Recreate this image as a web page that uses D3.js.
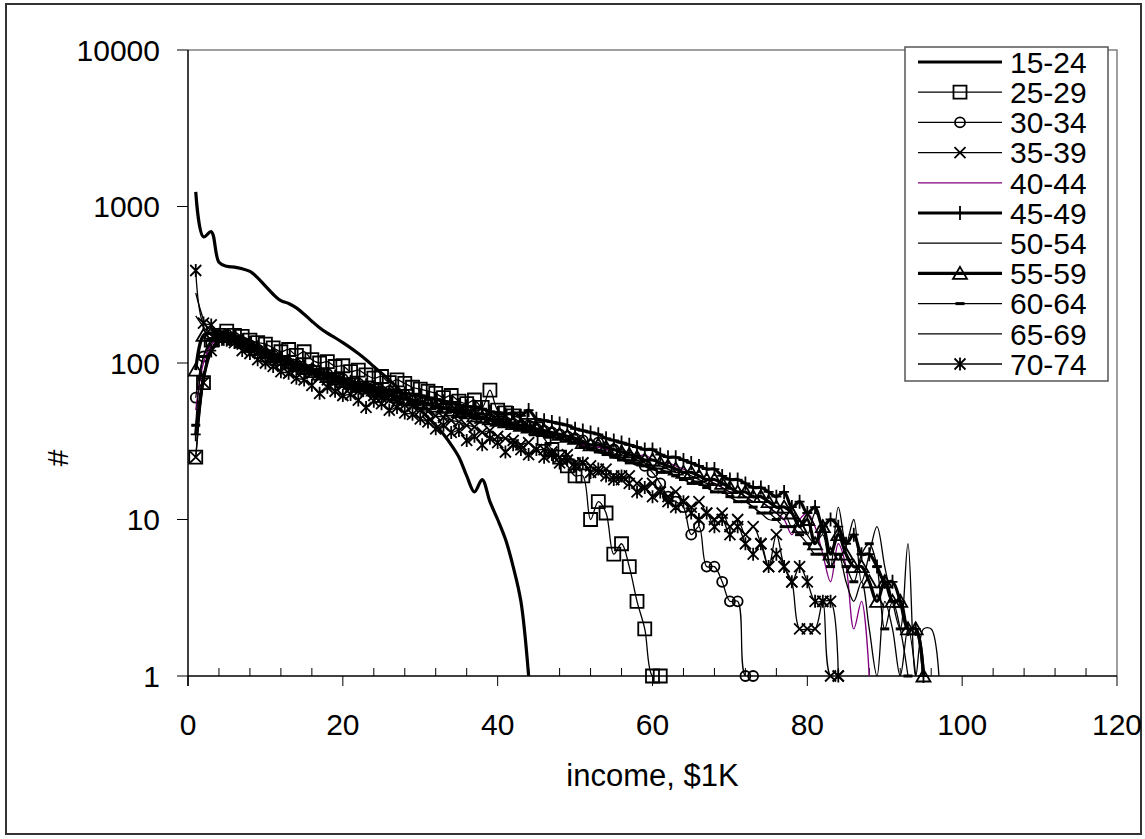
<!DOCTYPE html>
<html>
<head>
<meta charset="utf-8">
<script src="https://cdn.jsdelivr.net/npm/d3@7/dist/d3.min.js"></script>
<style>
  body { margin: 0; background: #fff; }
  svg text { font-family: "Liberation Sans", Arial, sans-serif; fill: #000; }
</style>
</head>
<body>
<svg id="chart-area"></svg>
<script>
// age groups (legend order)
var ages = ["15-24", "25-29", "30-34", "35-39", "40-44", "45-49", "50-54", "55-59", "60-64", "65-69", "70-74"];

// counts per $1K income bin, starting at income = 1
var s15_24 = [1240,640,690,440,415,410,400,385,350,310,275,250,240,225,205,185,168,155,145,135,125,115,105,95,86,78,70,62,56,50,45,40,35,30,25,19,15,18,13,10,7.5,5,3,1];
var s25_29 = [25,75,140,150,160,150,148,140,135,132,125,118,122,112,118,105,100,102,95,96,88,90,84,80,82,75,78,74,70,68,66,64,60,62,57,55,58,52,67,50,48,46,44,40,38,33,28,25,22,19,19,10,13,11,6,7,5,3,2,1,1];
var s30_34 = [60,110,135,150,152,145,135,130,122,115,112,104,100,98,92,91,86,85,80,79,75,74,70,70,66,66,62,63,58,58,55,55,52,52,50,49,47,47,44,44,42,41,40,40,38,37,36,35,34,33,32,30,31,28,28,26,25,24,22,20,17,14,13,12,8,9,5,5,4,3,3,1,1];
var s35_39 = [25,75,120,140,145,140,132,126,118,112,108,100,98,92,90,86,82,78,77,72,70,66,66,62,60,58,57,54,53,50,49,46,45,43,42,40,39,36,37,34,33,32,30,31,28,28,27,25,26,23,23,22,20,21,19,18,19,17,16,17,15,14,15,13,12,13,11,10,11,9,10,8,9,7,5,8,5,4,2,2,2,3,1,1];
var s40_44 = [50,100,130,145,150,145,138,130,124,117,111,106,101,97,93,89,86,83,80,77,75,72,70,68,66,64,62,60,58,57,55,53,52,51,49,48,46,45,44,43,41,40,39,38,37,36,35,34,33,32,30,29,29,28,28,27,26,25,26,24,23,23,22,21,20,19,18,17,16,15,15,14,13,13,12,11,10,8,10,11,9,6,4,7,5,2,3,1];
var s45_49 = [35,80,120,140,150,148,140,134,126,120,113,108,103,99,95,91,88,85,82,79,76,74,72,70,68,66,65,64,63,62,60,59,57,56,54,53,52,51,49,48,47,48,46,50,44,43,42,41,40,38,37,36,35,33,32,31,30,29,28,28,26,25,25,24,23,22,21,21,19,18,18,17,16,16,15,14,15,12,13,11,12,9,10,9,7,8,6,6,5,4,4,3,2,2,1];
var s50_54 = [280,190,150,148,145,140,135,128,122,116,110,106,100,97,92,89,85,82,80,77,74,72,69,67,65,64,61,60,58,56,54,53,51,50,48,47,45,44,43,42,40,39,38,37,36,35,34,33,32,31,29,28,27,26,25,24,24,23,22,21,21,20,19,18,18,17,16,15,15,14,13,13,12,11,10,10,11,9,10,8,7,8,5,6,4,3,4,2,1,3,2,1,2,1];
var s55_59 = [90,150,155,150,148,142,136,130,122,116,110,105,100,96,92,88,85,82,79,76,74,71,69,67,65,63,61,59,58,56,55,53,52,50,49,48,46,45,44,43,42,41,40,39,38,37,36,35,34,33,31,30,30,29,28,27,26,25,24,24,23,22,21,20,20,19,18,18,17,16,15,15,14,14,13,12,12,11,9,10,7,9,6,8,6,5,5,4,3,4,3,3,2,2,1];
var s60_64 = [40,110,140,148,146,140,133,127,120,114,108,104,99,95,91,88,84,81,78,75,73,70,68,66,64,62,60,59,57,55,54,52,51,49,48,47,45,44,43,41,40,39,38,37,36,35,34,33,32,31,29,28,27,26,25,24,23,23,22,21,20,20,19,18,17,17,16,15,15,14,13,13,12,11,11,10,9,9,8,7,6,6,5,6,5,4,6,7,5,2,3,2,1];
var s65_69 = [200,170,150,145,140,136,130,124,118,112,107,103,98,95,91,87,84,81,78,76,73,71,69,66,64,63,61,59,57,56,54,52,51,50,48,47,46,44,43,42,41,40,39,38,37,36,35,34,33,32,29,29,28,27,26,25,25,24,23,22,22,21,20,20,19,18,17,17,16,15,15,14,13,13,12,11,10,12,9,8,11,9,5,12,7,10,4,6,9,5,3,2,7,1,2,2,1];
var s70_74 = [390,180,175,150,140,135,120,115,105,100,95,88,86,80,78,72,64,70,66,62,63,58,52,57,55,50,52,48,47,44,42,38,40,36,37,32,34,30,33,31,27,30,28,26,28,25,26,23,24,22,23,20,21,19,18,19,17,15,16,14,15,13,12,13,11,10,11,9,10,8,9,7,6,7,5,6,5,4,5,4,3,3,3,1];

var seriesValues = [s15_24, s25_29, s30_34, s35_39, s40_44, s45_49, s50_54, s55_59, s60_64, s65_69, s70_74];

// axes
var xTicks = [0, 20, 40, 60, 80, 100, 120];
var yTicks = [1, 10, 100, 1000, 10000];
var xTitle = "income, $1K";
var yTitle = "#";

// line style per series
var styles = [
  { width: 3.2, color: "#000", marker: null },
  { width: 1.3, color: "#000", marker: "square" },
  { width: 1.3, color: "#000", marker: "circle" },
  { width: 1.3, color: "#000", marker: "x" },
  { width: 1.3, color: "#800080", marker: null },
  { width: 3.2, color: "#000", marker: "plus" },
  { width: 1.3, color: "#000", marker: null },
  { width: 3.2, color: "#000", marker: "triangle" },
  { width: 1.3, color: "#000", marker: "dash" },
  { width: 1.3, color: "#000", marker: null },
  { width: 1.3, color: "#000", marker: "star" }
];

var markerPath = {
  square: "M-6.5,-6.5H6.5V6.5H-6.5Z",
  circle: "M-5,0A5,5 0 1,0 5,0A5,5 0 1,0 -5,0",
  x: "M-5.5,-5.5L5.5,5.5M-5.5,5.5L5.5,-5.5",
  plus: "M0,-7V7M-5,0H5",
  triangle: "M0,-6.5L7,5.5H-7Z",
  dash: "M-4.5,0H4.5",
  star: "M-5.5,-5.5L5.5,5.5M-5.5,5.5L5.5,-5.5M0,-6.5V6.5"
};

var chart = {
  width: 1145, height: 839,
  plot: { left: 188, top: 50, right: 1117, bottom: 676 },
  fontSize: 30
};

var svg = d3.select("#chart-area")
  .attr("width", chart.width)
  .attr("height", chart.height);

// outer chart border
svg.append("rect")
  .attr("x", 6).attr("y", 4)
  .attr("width", 1135).attr("height", 830)
  .attr("fill", "#fff")
  .attr("stroke", "#333")
  .attr("stroke-width", 2);

var x = d3.scaleLinear().domain([0, 120]).range([chart.plot.left, chart.plot.right]);
var y = d3.scaleLog().domain([1, 10000]).range([chart.plot.bottom, chart.plot.top]);

// plot area frame (top/right grey)
svg.append("path")
  .attr("d", "M" + chart.plot.left + "," + chart.plot.top + "H" + chart.plot.right + "V" + chart.plot.bottom)
  .attr("fill", "none")
  .attr("stroke", "#808080")
  .attr("stroke-width", 1.5);

// x axis: major ticks outside, minor ticks every 4 inside
var xAxisGroup = svg.append("g")
  .attr("transform", "translate(0," + chart.plot.bottom + ")");
xAxisGroup.append("line")
  .attr("x1", chart.plot.left).attr("x2", chart.plot.right)
  .attr("stroke", "#000").attr("stroke-width", 1.5);
xAxisGroup.selectAll(".minor")
  .data(d3.range(4, 120, 4).filter(function(d){ return d % 20 != 0; }))
  .enter().append("line")
    .attr("x1", function(d){ return x(d); }).attr("x2", function(d){ return x(d); })
    .attr("y1", 0).attr("y2", -8)
    .attr("stroke", "#000");
xAxisGroup.selectAll(".major")
  .data(xTicks)
  .enter().append("line")
    .attr("x1", function(d){ return x(d); }).attr("x2", function(d){ return x(d); })
    .attr("y1", 0).attr("y2", 10)
    .attr("stroke", "#000");
xAxisGroup.selectAll("text")
  .data(xTicks)
  .enter().append("text")
    .attr("x", function(d){ return x(d); })
    .attr("y", 48)
    .attr("dy", "0.36em")
    .attr("text-anchor", "middle")
    .attr("font-size", chart.fontSize)
    .text(function(d){ return d; });

// y axis
var yAxisGroup = svg.append("g")
  .attr("transform", "translate(" + chart.plot.left + ",0)");
yAxisGroup.append("line")
  .attr("y1", chart.plot.top).attr("y2", chart.plot.bottom + 10)
  .attr("stroke", "#000").attr("stroke-width", 1.5);
yAxisGroup.selectAll(".tick")
  .data(yTicks)
  .enter().append("line")
    .attr("x1", -11).attr("x2", 0)
    .attr("y1", function(d){ return y(d); }).attr("y2", function(d){ return y(d); })
    .attr("stroke", "#000");
yAxisGroup.selectAll("text")
  .data(yTicks)
  .enter().append("text")
    .attr("x", -28)
    .attr("y", function(d){ return y(d); })
    .attr("dy", "0.36em")
    .attr("text-anchor", "end")
    .attr("font-size", chart.fontSize)
    .text(function(d){ return d; });

// axis titles
svg.append("text")
  .attr("x", (chart.plot.left + chart.plot.right) / 2)
  .attr("y", 775)
  .attr("dy", "0.36em")
  .attr("text-anchor", "middle")
  .attr("font-size", 31)
  .text(xTitle);

svg.append("text")
  .attr("transform", "translate(57,458) rotate(-90)")
  .attr("dy", "0.36em")
  .attr("text-anchor", "middle")
  .attr("font-size", chart.fontSize)
  .text(yTitle);

// clip lines to the plot area
svg.append("clipPath").attr("id", "plot-clip")
  .append("rect")
    .attr("x", chart.plot.left).attr("y", chart.plot.top)
    .attr("width", chart.plot.right - chart.plot.left)
    .attr("height", chart.plot.bottom - chart.plot.top);

var line = d3.line()
  .x(function(d, i){ return x(i + 1); })
  .y(function(d){ return y(d); })
  .curve(d3.curveCatmullRom.alpha(0.5));

var seriesGroup = svg.append("g");
seriesValues.forEach(function(values, k){
  var st = styles[k];
  var g = seriesGroup.append("g").attr("class", "series");
  g.append("path")
    .datum(values)
    .attr("clip-path", "url(#plot-clip)")
    .attr("d", line)
    .attr("fill", "none")
    .attr("stroke", st.color)
    .attr("stroke-width", st.width)
    .attr("stroke-linejoin", "round");
  if (st.marker) {
    g.selectAll(".marker")
      .data(values)
      .enter().append("path")
        .attr("transform", function(d, i){ return "translate(" + x(i + 1) + "," + y(d) + ")"; })
        .attr("d", markerPath[st.marker])
        .attr("fill", "none")
        .attr("stroke", "#000")
        .attr("stroke-width", st.marker == "dash" ? 3 : 1.8);
  }
});

// legend
var legend = { left: 905, top: 47, width: 203, height: 334, first: 62, step: 30.2 };
var lg = svg.append("g");
lg.append("rect")
  .attr("x", legend.left).attr("y", legend.top)
  .attr("width", legend.width).attr("height", legend.height)
  .attr("fill", "#fff")
  .attr("stroke", "#555")
  .attr("stroke-width", 1.5);
var items = lg.selectAll(".item")
  .data(ages)
  .enter().append("g")
    .attr("transform", function(d, i){ return "translate(0," + (legend.first + i * legend.step) + ")"; });
items.append("line")
  .attr("x1", 918).attr("x2", 1002)
  .attr("stroke", function(d, i){ return styles[i].color; })
  .attr("stroke-width", function(d, i){ return styles[i].width; });
items.filter(function(d, i){ return styles[i].marker; })
  .append("path")
    .attr("transform", "translate(960,0)")
    .attr("d", function(d){ return markerPath[styles[ages.indexOf(d)].marker]; })
    .attr("fill", "none")
    .attr("stroke", "#000")
    .attr("stroke-width", function(d){ return styles[ages.indexOf(d)].marker == "dash" ? 3 : 1.8; });
items.append("text")
  .attr("x", 1010)
  .attr("dy", "0.36em")
  .attr("font-size", chart.fontSize)
  .text(function(d){ return d; });
</script>
</body>
</html>
